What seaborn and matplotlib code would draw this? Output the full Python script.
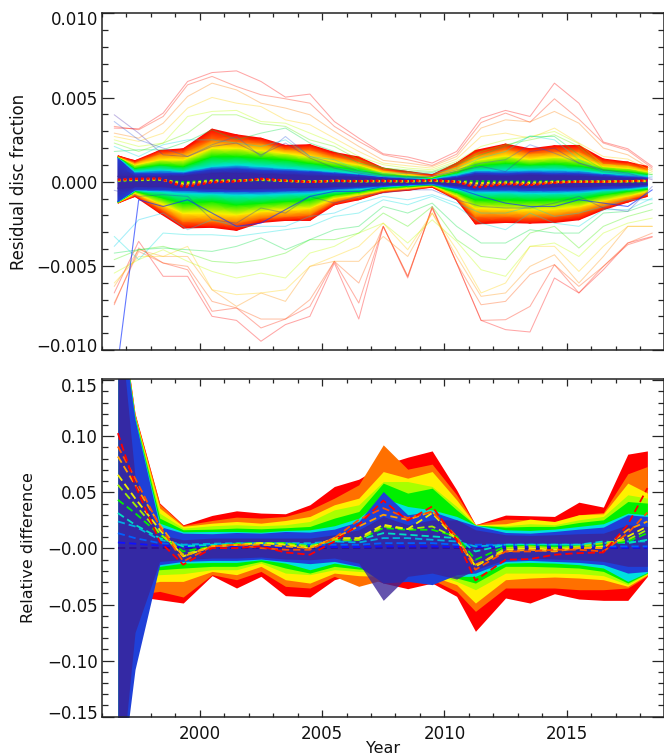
import matplotlib
matplotlib.use("Agg")
import matplotlib.pyplot as plt
import matplotlib.transforms as mtrans
from matplotlib.colors import LinearSegmentedColormap
from matplotlib.ticker import MultipleLocator
import numpy as np
import seaborn as sns

LINE_YEARS = [1996.5, 1997.5, 1998.5, 1999.5, 2000.5, 2001.5, 2002.5, 2003.5, 2004.5, 2005.5, 2006.5, 2007.5,
              2008.5, 2009.5, 2010.5, 2011.5, 2012.5, 2013.5, 2014.5, 2015.5, 2016.5, 2017.5, 2018.5]
BAND_YEARS = [1996.65, 1997.35, 1998.36, 1999.32, 2000.5, 2001.5, 2002.5, 2003.5, 2004.5, 2005.5, 2006.5, 2007.5,
              2008.5, 2009.5, 2010.5, 2011.27, 2012.5, 2013.5, 2014.5, 2015.5, 2016.5, 2017.5, 2018.3]

# top panel, residual disc fraction in units of 1e-3
TOP_UP_RED = [1.54, 1.25, 1.86, 1.96, 3.13, 2.79, 2.59, 2.16, 2.20, 1.74, 1.47, 0.81, 0.61, 0.42, 1.11, 1.86, 2.24, 1.96, 2.14, 2.16, 1.35, 1.17, 0.91]
TOP_UP_ORANGE = [1.52, 1.15, 1.66, 1.74, 2.49, 2.40, 2.30, 1.94, 1.90, 1.50, 1.21, 0.71, 0.51, 0.36, 0.95, 1.60, 1.94, 1.70, 1.80, 1.80, 1.11, 1.01, 0.75]
TOP_UP_YELLOW = [1.50, 1.01, 1.31, 1.31, 2.00, 2.00, 1.86, 1.70, 1.50, 1.21, 1.01, 0.57, 0.42, 0.30, 0.71, 1.27, 1.54, 1.35, 1.47, 1.41, 0.91, 0.81, 0.61]
TOP_UP_GREEN = [1.49, 0.81, 1.01, 0.91, 1.50, 1.50, 1.41, 1.31, 1.11, 0.91, 0.71, 0.42, 0.32, 0.24, 0.55, 0.95, 1.11, 1.01, 1.07, 0.95, 0.71, 0.61, 0.46]
TOP_UP_CYAN = [1.47, 0.61, 0.71, 0.61, 0.91, 1.01, 0.91, 0.81, 0.71, 0.61, 0.48, 0.32, 0.24, 0.18, 0.42, 0.67, 0.67, 0.71, 0.71, 0.67, 0.51, 0.42, 0.32]
TOP_UP_BLUE = [1.45, 0.51, 0.51, 0.51, 0.75, 0.81, 0.71, 0.67, 0.61, 0.51, 0.42, 0.28, 0.20, 0.16, 0.32, 0.55, 0.51, 0.55, 0.51, 0.51, 0.42, 0.32, 0.26]
TOP_UP_NAVY = [0.32, 0.32, 0.32, 0.36, 0.51, 0.51, 0.46, 0.42, 0.36, 0.32, 0.28, 0.18, 0.14, 0.10, 0.22, 0.38, 0.36, 0.42, 0.38, 0.36, 0.28, 0.22, 0.16]

TOP_LO_RED = [-1.27, -0.87, -1.86, -2.75, -2.71, -2.89, -2.42, -2.30, -2.30, -1.37, -1.07, -0.63, -0.51, -0.32, -1.07, -2.51, -2.42, -2.46, -2.42, -2.26, -1.66, -1.21, -0.87]
TOP_LO_ORANGE = [-1.25, -0.77, -1.56, -2.36, -2.36, -2.46, -2.16, -2.06, -1.96, -1.17, -0.91, -0.55, -0.44, -0.26, -0.97, -2.06, -2.06, -2.10, -2.06, -1.86, -1.43, -1.03, -0.73]
TOP_LO_YELLOW = [-1.23, -0.67, -1.27, -1.86, -1.86, -1.96, -1.76, -1.66, -1.56, -0.97, -0.77, -0.48, -0.36, -0.22, -0.83, -1.56, -1.62, -1.66, -1.62, -1.47, -1.11, -0.83, -0.57]
TOP_LO_GREEN = [-1.21, -0.57, -0.91, -1.27, -1.17, -1.37, -1.27, -1.17, -1.07, -0.77, -0.61, -0.38, -0.28, -0.18, -0.63, -1.07, -1.07, -1.11, -1.07, -1.03, -0.77, -0.57, -0.44]
TOP_LO_CYAN = [-1.19, -0.51, -0.57, -0.67, -0.71, -0.77, -0.77, -0.71, -0.67, -0.51, -0.44, -0.28, -0.20, -0.12, -0.44, -0.63, -0.63, -0.67, -0.67, -0.63, -0.51, -0.44, -0.32]
TOP_LO_BLUE = [-1.17, -0.48, -0.48, -0.51, -0.57, -0.57, -0.57, -0.53, -0.51, -0.42, -0.34, -0.24, -0.18, -0.10, -0.34, -0.48, -0.48, -0.51, -0.51, -0.48, -0.40, -0.34, -0.24]
TOP_LO_NAVY = [-0.38, -0.28, -0.28, -0.34, -0.38, -0.42, -0.38, -0.34, -0.34, -0.28, -0.24, -0.18, -0.12, -0.06, -0.22, -0.28, -0.28, -0.32, -0.28, -0.28, -0.22, -0.20, -0.14]

# thin lines above zero
U1 = [3.19, 3.15, 4.08, 5.96, 6.49, 6.59, 5.96, 5.03, 5.21, 3.58, 2.59, 1.66, 1.47, 1.11, 1.80, 3.78, 4.24, 3.88, 5.86, 4.67, 2.36, 1.96, 0.91]
U2 = [3.29, 3.09, 3.88, 5.76, 6.26, 5.66, 5.17, 4.93, 4.67, 3.29, 2.40, 1.60, 1.31, 0.97, 1.64, 3.52, 4.08, 3.54, 4.93, 3.72, 2.30, 1.86, 0.81]
U3 = [2.89, 2.59, 3.48, 5.07, 5.86, 5.46, 4.67, 4.38, 3.98, 2.99, 2.10, 1.27, 1.11, 0.91, 1.50, 3.19, 3.68, 3.56, 4.18, 3.48, 2.00, 1.60, 0.71]
U4 = [2.69, 2.40, 2.89, 4.38, 5.01, 4.67, 4.47, 3.68, 3.39, 2.59, 1.80, 1.11, 0.95, 0.81, 1.35, 2.69, 2.89, 2.59, 3.19, 2.30, 1.50, 1.35, 0.61]
U5 = [2.49, 2.10, 2.30, 3.88, 4.18, 4.24, 3.58, 3.48, 2.89, 2.30, 1.50, 1.01, 0.81, 0.71, 1.21, 2.10, 2.49, 2.69, 2.99, 2.26, 1.01, 0.91, 0.51]
U6 = [2.30, 1.80, 2.30, 2.89, 3.98, 3.98, 3.45, 3.29, 2.49, 2.10, 1.31, 0.81, 0.71, 0.61, 1.11, 1.80, 2.20, 2.49, 2.79, 2.10, 0.81, 0.71, 0.42]
U7 = [1.80, 1.90, 1.90, 2.40, 3.09, 2.49, 2.89, 3.19, 2.30, 1.80, 1.11, 0.81, 0.61, 0.55, 1.01, 1.60, 2.10, 2.69, 2.69, 1.60, 0.71, 0.61, 0.42]
U8 = [2.10, 1.50, 2.20, 2.49, 2.49, 2.30, 2.10, 2.49, 1.50, 1.31, 0.71, 0.51, 0.51, 0.48, 0.81, 1.41, 1.80, 2.73, 2.49, 1.31, 0.61, 0.51, 0.32]
U9 = [3.58, 2.49, 2.00, 1.50, 2.20, 2.69, 1.50, 2.69, 1.50, 1.11, 0.61, 0.42, 0.32, 0.32, 0.71, 1.11, 1.31, 2.20, 1.70, 1.11, 0.61, 0.42, 0.22]
U10 = [3.98, 2.89, 1.60, 1.50, 2.10, 2.30, 1.60, 2.30, 1.41, 0.81, 0.51, 0.32, 0.22, 0.32, 0.61, 0.91, 0.61, 1.80, 2.00, 1.11, 0.71, 0.51, 0.12]

# thin lines below zero
L1 = [-6.61, -3.54, -5.62, -5.62, -8.00, -8.24, -9.48, -8.49, -8.00, -4.83, -8.16, -2.65, -5.72, -1.47, -4.83, -8.24, -8.79, -8.93, -5.72, -6.61, -5.23, -3.64, -3.25]
L2 = [-7.31, -3.94, -4.83, -5.23, -7.70, -7.50, -8.69, -8.16, -7.41, -4.73, -7.21, -2.65, -5.62, -1.56, -4.83, -8.24, -8.20, -7.41, -4.93, -6.61, -5.03, -3.74, -3.29]
L3 = [-7.21, -4.14, -4.83, -5.03, -7.11, -7.50, -8.16, -8.16, -7.01, -4.73, -6.02, -2.65, -5.62, -1.56, -4.83, -7.31, -7.11, -5.52, -4.93, -6.22, -5.03, -3.64, -3.05]
L4 = [-6.22, -4.04, -4.44, -4.44, -6.42, -7.41, -6.61, -7.11, -5.03, -4.73, -4.73, -3.25, -4.44, -1.86, -4.44, -6.81, -6.61, -5.03, -4.34, -6.02, -4.44, -2.65, -2.65]
L5 = [-6.02, -4.44, -4.44, -3.84, -6.42, -6.71, -6.61, -6.42, -5.03, -4.44, -3.84, -2.46, -4.04, -1.86, -4.04, -6.61, -6.02, -3.84, -3.84, -5.33, -3.84, -2.65, -2.65]
L6 = [-5.43, -4.63, -4.04, -4.73, -5.33, -5.72, -5.43, -5.72, -4.24, -3.84, -3.05, -2.46, -3.64, -2.26, -3.54, -5.23, -5.62, -3.84, -3.64, -4.44, -3.05, -2.46, -2.16]
L7 = [-4.63, -4.04, -3.84, -4.24, -4.73, -4.83, -4.63, -4.24, -3.44, -3.44, -3.05, -1.86, -2.65, -1.47, -3.44, -4.44, -4.63, -3.05, -2.65, -3.94, -2.65, -2.06, -1.66]
L8 = [-4.24, -4.04, -3.94, -4.04, -4.14, -3.84, -3.34, -4.04, -3.44, -2.85, -2.65, -1.47, -1.86, -1.27, -2.65, -3.64, -3.64, -2.85, -3.05, -3.05, -1.86, -1.76, -1.27]
L9 = [-3.25, -4.63, -3.05, -3.15, -3.15, -3.25, -3.05, -2.85, -2.65, -2.06, -1.86, -1.07, -1.37, -0.87, -1.47, -2.46, -2.85, -1.86, -2.46, -2.65, -1.66, -1.66, -0.97]
L10 = [-3.84, -2.26, -1.86, -2.85, -2.26, -2.65, -2.65, -2.65, -2.06, -1.86, -1.27, -0.87, -1.07, -0.77, -1.27, -1.86, -1.86, -1.47, -2.06, -1.86, -1.47, -1.07, -1.07]
L11 = [-0.51, -0.87, -0.77, -0.87, -2.26, -2.46, -1.56, -1.86, -0.87, -1.27, -0.87, -0.67, -0.48, -0.48, -1.07, -1.47, -1.56, -1.56, -1.27, -0.87, -1.56, -1.76, -0.28]
L12 = [-12.45, -1.07, -1.47, -1.07, -1.86, -2.65, -2.46, -1.66, -0.87, -0.57, -0.57, -0.28, -0.18, -0.18, -0.38, -0.87, -1.27, -1.47, -1.47, -1.07, -1.27, -1.47, -0.48]

# dotted lines around zero
C1 = [0.12, 0.18, 0.20, -0.32, -0.04, 0.02, 0.18, 0.08, -0.02, 0.06, 0.04, 0.06, 0.04, 0.10, 0.00, -0.34, -0.14, -0.20, -0.06, 0.00, 0.00, 0.04, 0.08]
C2 = [0.10, 0.15, 0.17, -0.22, 0.00, 0.04, 0.15, 0.06, -0.01, 0.05, 0.04, 0.05, 0.03, 0.08, 0.00, -0.22, -0.10, -0.14, -0.04, 0.00, 0.00, 0.03, 0.06]
C3 = [0.08, 0.12, 0.14, -0.12, 0.05, 0.06, 0.13, 0.05, 0.01, 0.05, 0.03, 0.04, 0.03, 0.06, 0.01, -0.10, -0.05, -0.07, -0.01, 0.01, 0.01, 0.03, 0.05]
C4 = [0.06, 0.09, 0.12, -0.04, 0.08, 0.08, 0.10, 0.05, 0.02, 0.04, 0.03, 0.03, 0.02, 0.04, 0.01, 0.02, 0.00, 0.00, 0.02, 0.02, 0.01, 0.02, 0.03]

# bottom panel, relative difference in percent
BOT_UP_RED = [23.0, 12.05, 4.04, 2.11, 2.94, 3.35, 3.15, 3.09, 3.89, 5.52, 6.17, 7.45, 8.13, 8.69, 5.22, 2.11, 2.97, 2.91, 2.85, 4.12, 3.68, 8.40, 8.69]
BOT_UP_ORANGE = [22.8, 11.95, 3.95, 2.05, 2.49, 2.79, 2.70, 2.85, 3.44, 4.48, 5.67, 9.23, 7.06, 7.51, 4.78, 2.14, 2.61, 2.55, 2.11, 3.00, 3.20, 6.65, 7.30]
BOT_UP_YELLOW = [22.7, 11.85, 3.59, 1.96, 2.25, 2.40, 2.25, 2.49, 2.85, 3.89, 4.48, 6.85, 6.26, 6.85, 4.33, 2.11, 2.20, 2.61, 2.40, 3.00, 3.09, 5.82, 4.93]
BOT_UP_LIME = [22.6, 11.80, 3.14, 1.81, 2.02, 2.11, 2.02, 2.11, 2.40, 3.44, 3.89, 5.96, 5.96, 5.52, 3.74, 2.08, 2.02, 2.20, 2.11, 2.55, 2.85, 4.78, 4.48]
BOT_UP_GREEN = [22.5, 11.75, 2.70, 1.66, 1.72, 1.81, 1.75, 1.84, 1.96, 2.70, 3.29, 5.82, 4.93, 5.37, 3.44, 2.08, 1.90, 1.96, 1.96, 2.31, 2.55, 4.18, 4.04]
BOT_UP_CYAN = [22.4, 11.65, 2.25, 1.48, 1.51, 1.51, 1.45, 1.60, 1.66, 2.02, 2.70, 4.48, 3.74, 3.44, 2.85, 2.08, 1.66, 1.60, 1.72, 1.96, 2.20, 3.14, 3.00]
BOT_UP_BLUE = [22.3, 11.50, 1.96, 1.36, 1.31, 1.42, 1.36, 1.51, 1.45, 1.72, 2.40, 5.07, 3.00, 3.29, 2.55, 2.02, 1.42, 1.36, 1.51, 1.72, 1.90, 3.00, 2.85]
BOT_UP_NAVY = [22.0, 6.40, 1.22, 0.77, 0.92, 0.92, 0.92, 0.92, 0.92, 1.22, 1.66, 2.85, 2.11, 2.55, 2.55, 1.66, 1.22, 1.16, 1.22, 1.31, 1.36, 2.11, 1.96]

BOT_LO_RED = [-22.0, -4.27, -4.57, -4.87, -2.43, -3.53, -2.49, -4.21, -4.33, -2.79, -2.20, -3.09, -3.59, -3.09, -4.27, -7.39, -4.42, -4.87, -4.04, -4.51, -4.63, -4.63, -2.49]
BOT_LO_ORANGE = [-21.0, -4.12, -3.83, -4.33, -2.34, -2.79, -2.05, -3.38, -3.53, -2.49, -3.38, -2.79, -2.79, -2.79, -3.83, -5.61, -3.53, -3.53, -3.53, -3.68, -3.68, -3.53, -2.43]
BOT_LO_YELLOW = [-20.0, -3.38, -2.94, -2.94, -2.05, -2.34, -1.60, -2.79, -3.09, -2.20, -2.43, -2.49, -2.20, -2.49, -3.23, -4.87, -2.79, -2.64, -2.55, -2.64, -2.79, -3.38, -2.34]
BOT_LO_LIME = [-19.0, -2.79, -2.34, -2.25, -1.90, -1.90, -1.31, -2.20, -2.34, -1.90, -2.05, -2.20, -2.05, -2.20, -2.94, -3.68, -2.20, -2.20, -2.20, -2.25, -2.43, -3.23, -2.25]
BOT_LO_GREEN = [-18.0, -2.20, -1.90, -1.75, -1.60, -1.60, -1.16, -1.75, -2.20, -1.60, -1.84, -1.90, -1.90, -1.90, -2.64, -3.09, -1.60, -1.60, -1.66, -1.75, -2.05, -3.09, -2.20]
BOT_LO_CYAN = [-17.0, -1.90, -1.60, -1.31, -1.25, -1.25, -1.01, -1.31, -1.90, -1.31, -1.66, -1.75, -1.75, -1.90, -2.49, -2.49, -1.31, -1.25, -1.31, -1.45, -1.75, -2.94, -2.14]
BOT_LO_BLUE = [-23.0, -10.8, -1.45, -1.16, -1.07, -1.07, -0.95, -1.16, -1.36, -1.16, -1.60, -3.09, -2.94, -3.23, -2.34, -2.20, -1.16, -1.07, -1.16, -1.25, -1.45, -2.20, -2.05]
BOT_LO_NAVY = [-23.0, -7.50, -1.16, -1.01, -0.86, -0.86, -0.77, -0.95, -1.01, -0.86, -1.31, -4.63, -2.49, -2.20, -2.73, -1.90, -1.01, -0.86, -0.95, -1.01, -1.16, -1.60, -1.60]

# dashed lines in the bottom panel, percent
S1 = [10.27, 5.67, 0.62, -1.45, 0.03, 0.03, 0.18, -0.36, -0.56, 0.62, 2.11, 4.27, 2.49, 3.74, 0.77, -2.85, -1.01, -0.95, -0.56, -0.42, -0.36, 2.11, 5.37]
S2 = [9.08, 6.26, 1.96, -1.16, 0.18, 0.33, 0.03, -0.12, -0.12, 0.92, 2.55, 3.59, 2.70, 3.29, 1.07, -1.90, -0.27, -0.27, -0.12, -0.12, -0.27, 1.36, 3.20]
S3 = [8.19, 5.67, 2.11, -0.71, 0.18, 0.33, 0.33, 0.18, 0.03, 0.92, 1.96, 3.00, 2.55, 3.29, 0.92, -1.45, -0.27, -0.12, -0.27, 0.03, 0.03, 1.66, 2.40]
S4 = [6.56, 4.48, 1.66, -0.71, 0.18, 0.33, 0.47, 0.33, 0.03, 0.92, 0.92, 2.11, 1.72, 3.15, 0.77, -1.60, -0.12, 0.03, -0.12, 0.03, 0.18, 1.07, 1.96]
S5 = [5.67, 3.89, 1.36, -0.56, 0.18, 0.33, 0.47, 0.42, 0.18, 0.77, 0.77, 1.96, 1.72, 1.96, 0.92, -1.60, 0.03, 0.18, 0.03, 0.18, 0.47, 0.77, 1.66]
S6 = [4.33, 3.15, 1.22, -0.27, 0.18, 0.42, 0.47, 0.47, 0.18, 0.77, 0.77, 1.81, 1.66, 1.66, 1.07, -1.01, 0.18, 0.24, 0.18, 0.18, 0.33, 0.62, 1.36]
S7 = [3.15, 2.11, 0.92, 0.18, 0.33, 0.42, 0.47, 0.47, 0.33, 0.62, 0.77, 1.36, 1.22, 1.07, 0.92, -0.27, 0.33, 0.33, 0.33, 0.33, 0.62, 0.47, 0.77]
S8 = [2.40, 1.96, 0.77, 0.33, 0.42, 0.47, 0.47, 0.47, 0.47, 0.62, 0.53, 0.92, 0.92, 0.77, 0.62, 0.18, 0.33, 0.33, 0.33, 0.33, 0.47, 0.62, 0.62]
S9 = [1.36, 0.92, 0.47, 0.33, 0.33, 0.33, 0.33, 0.33, 0.33, 0.33, 0.33, 0.47, 0.47, 0.47, 0.33, 0.33, 0.33, 0.33, 0.33, 0.33, 0.18, 0.18, 0.18]
S10 = [0.53, 0.42, 0.24, 0.12, 0.12, 0.12, 0.12, 0.12, 0.12, 0.12, 0.12, 0.18, 0.18, 0.18, 0.12, 0.12, 0.12, 0.12, 0.12, 0.12, 0.06, 0.06, 0.06]
S11 = [0.00, 0.00, 0.00, 0.00, 0.00, 0.00, 0.00, 0.00, 0.00, 0.00, 0.00, 0.00, 0.00, 0.00, 0.00, 0.00, 0.00, 0.00, 0.00, 0.00, 0.00, 0.00, 0.00]

TOP_TICKS = [-0.010, -0.005, 0.0, 0.005, 0.010]
TOP_TICK_LABELS = ["\u22120.010", "\u22120.005", "0.000", "0.005", "0.010"]
BOT_TICKS = [-0.15, -0.10, -0.05, 0.0, 0.05, 0.10, 0.15]
BOT_TICK_LABELS = ["\u22120.15", "\u22120.10", "\u22120.05", "\u22120.00", "0.05", "0.10", "0.15"]
YEAR_TICKS = [2000, 2005, 2010, 2015]

RED = "#ff0000"
ORANGE = "#ff7000"
YELLOW = "#fff000"
LIME = "#a8ff00"
GREEN = "#00f000"
CYAN = "#00e0e0"
BLUE = "#1f40d8"
NAVY = "#3525a5"
TEXT = "#111111"


def style_axes(ax, ymin, ymax, ticks, labels, minor):
    ax.set_xlim(1996, 2019)
    ax.set_ylim(ymin, ymax)
    ax.set_xticks(YEAR_TICKS)
    ax.xaxis.set_minor_locator(MultipleLocator(1))
    ax.set_yticks(ticks)
    ax.set_yticklabels(labels)
    ax.yaxis.set_minor_locator(MultipleLocator(minor))
    ax.tick_params(axis="x", which="major", direction="in", top=True, bottom=True, length=5, width=0.9,
                   pad=6, labelsize=12, labelcolor=TEXT)
    ax.tick_params(axis="x", which="minor", direction="in", top=True, bottom=True, length=2.6, width=0.9)
    ax.tick_params(axis="y", which="major", direction="in", left=True, right=True, length=8.5, width=0.9,
                   pad=3, labelsize=12, labelcolor=TEXT)
    ax.tick_params(axis="y", which="minor", direction="in", left=True, right=True, length=4.4, width=0.9)
    for side in ax.spines.values():
        side.set_linewidth(1.1)
        side.set_color("#222222")
    # end labels sit inside the frame like in the original
    fig = ax.figure
    tl = ax.get_yticklabels()
    tl[-1].set_transform(tl[-1].get_transform() + mtrans.ScaledTranslation(0, -4.5 / 100, fig.dpi_scale_trans))
    tl[0].set_transform(tl[0].get_transform() + mtrans.ScaledTranslation(0, 4.5 / 100, fig.dpi_scale_trans))


def plot_top(ax):
    lower = [TOP_LO_RED, TOP_LO_ORANGE, TOP_LO_YELLOW, TOP_LO_GREEN, TOP_LO_CYAN, TOP_LO_BLUE, TOP_LO_NAVY]
    upper = [TOP_UP_NAVY, TOP_UP_BLUE, TOP_UP_CYAN, TOP_UP_GREEN, TOP_UP_YELLOW, TOP_UP_ORANGE, TOP_UP_RED]

    yy = np.array(lower + upper) * 1e-3
    xx = np.tile(np.array(BAND_YEARS), (yy.shape[0], 1))
    cc = np.tile(np.array([0, 1, 2, 3, 4, 5, 6, 6, 5, 4, 3, 2, 1, 0]).reshape(-1, 1), (1, yy.shape[1]))
    cmap = LinearSegmentedColormap.from_list("bands", [RED, ORANGE, YELLOW, GREEN, CYAN, BLUE, NAVY], N=7)
    ax.pcolormesh(xx, yy, cc, cmap=cmap, shading="gouraud", vmin=0, vmax=6, zorder=1)

    up_lines = [U1, U2, U3, U4, U5, U6, U7, U8, U9, U10]
    up_cols = ["#ff0000", "#ff2000", "#ff8000", "#ffd000", "#c0ff00", "#60f000", "#00e040", "#00e0e0", "#3060e0", "#5030b0"]
    lo_lines = [L1, L2, L3, L4, L5, L6, L7, L8, L9, L10, L11, L12]
    lo_cols = ["#ff0000", "#ff2000", "#ff5000", "#ff9000", "#ffd000", "#c0ff00", "#40f000", "#00e040", "#00e0e0", "#00d0f0", "#3040c0", "#1030ff"]

    for vals, col in zip(up_lines + lo_lines[:-1], up_cols + lo_cols[:-1]):
        sns.lineplot(x=LINE_YEARS, y=np.array(vals) * 1e-3, color=col, lw=0.75, alpha=0.35,
                     errorbar=None, sort=False, ax=ax, zorder=2)
    sns.lineplot(x=LINE_YEARS, y=np.array(L12) * 1e-3, color=lo_cols[-1], lw=0.8, alpha=0.65,
                 errorbar=None, sort=False, ax=ax, zorder=2)

    for vals, col in zip([C4, C3, C2, C1], [GREEN, YELLOW, ORANGE, RED]):
        sns.lineplot(x=BAND_YEARS, y=np.array(vals) * 1e-3, color=col, lw=1.6, linestyle=(0, (1.2, 1.4)),
                     errorbar=None, sort=False, ax=ax, zorder=3)

    style_axes(ax, -0.0100, 0.0100, TOP_TICKS, TOP_TICK_LABELS, 0.001)
    ax.tick_params(axis="x", which="major", labelbottom=False)
    ax.set_ylabel("Residual disc fraction", fontsize=11.9, color=TEXT)
    ax.yaxis.set_label_coords(-74 / 562, 0.5)


def plot_bottom(ax):
    bands = [
        (BOT_LO_RED, BOT_UP_RED, RED),
        (BOT_LO_ORANGE, BOT_UP_ORANGE, ORANGE),
        (BOT_LO_YELLOW, BOT_UP_YELLOW, YELLOW),
        (BOT_LO_LIME, BOT_UP_LIME, LIME),
        (BOT_LO_GREEN, BOT_UP_GREEN, GREEN),
        (BOT_LO_CYAN, BOT_UP_CYAN, CYAN),
        (BOT_LO_BLUE, BOT_UP_BLUE, BLUE),
    ]
    for lo, up, col in bands:
        ax.fill_between(BAND_YEARS, np.array(lo) / 100, np.array(up) / 100, color=col, lw=0, zorder=1)
    ax.fill_between(BAND_YEARS, np.array(BOT_LO_NAVY) / 100, np.array(BOT_UP_NAVY) / 100,
                    color="#3a2396", alpha=0.78, lw=0, zorder=1)

    dashed = [S11, S10, S9, S8, S7, S6, S5, S4, S3, S2, S1]
    cols = ["#301090", "#1010ff", "#0060ff", "#00b0e0", "#00e0c0", "#00f000", "#a0f000", "#f0f000", "#ffa000", "#ff5000", "#ff0000"]
    for vals, col in zip(dashed, cols):
        sns.lineplot(x=BAND_YEARS, y=np.array(vals) / 100, color=col, lw=1.3, linestyle=(0, (4, 2.2)),
                     errorbar=None, sort=False, ax=ax, zorder=3)

    style_axes(ax, -0.150, 0.151, BOT_TICKS, BOT_TICK_LABELS, 0.01)
    ax.set_xlabel("Year", fontsize=11.5, labelpad=-1.5, color=TEXT)
    ax.set_ylabel("Relative difference", fontsize=11.5, color=TEXT)
    ax.yaxis.set_label_coords(-66 / 562, 0.5)


def main():
    sns.set_theme(style="ticks")
    plt.rcParams["font.family"] = ["DejaVu Sans"]

    fig = plt.figure(figsize=(6.64, 7.55), dpi=100)
    w = 562.5 / 664
    left = 102 / 664
    ax_top = fig.add_axes([left, 1 - 350 / 755, w, (350 - 13.5) / 755])
    ax_bot = fig.add_axes([left, 1 - 716.7 / 755, w, (716.7 - 379) / 755])

    plot_top(ax_top)
    plot_bottom(ax_bot)

    fig.savefig("out.png", dpi=100)
    plt.close(fig)


if __name__ == "__main__":
    main()
